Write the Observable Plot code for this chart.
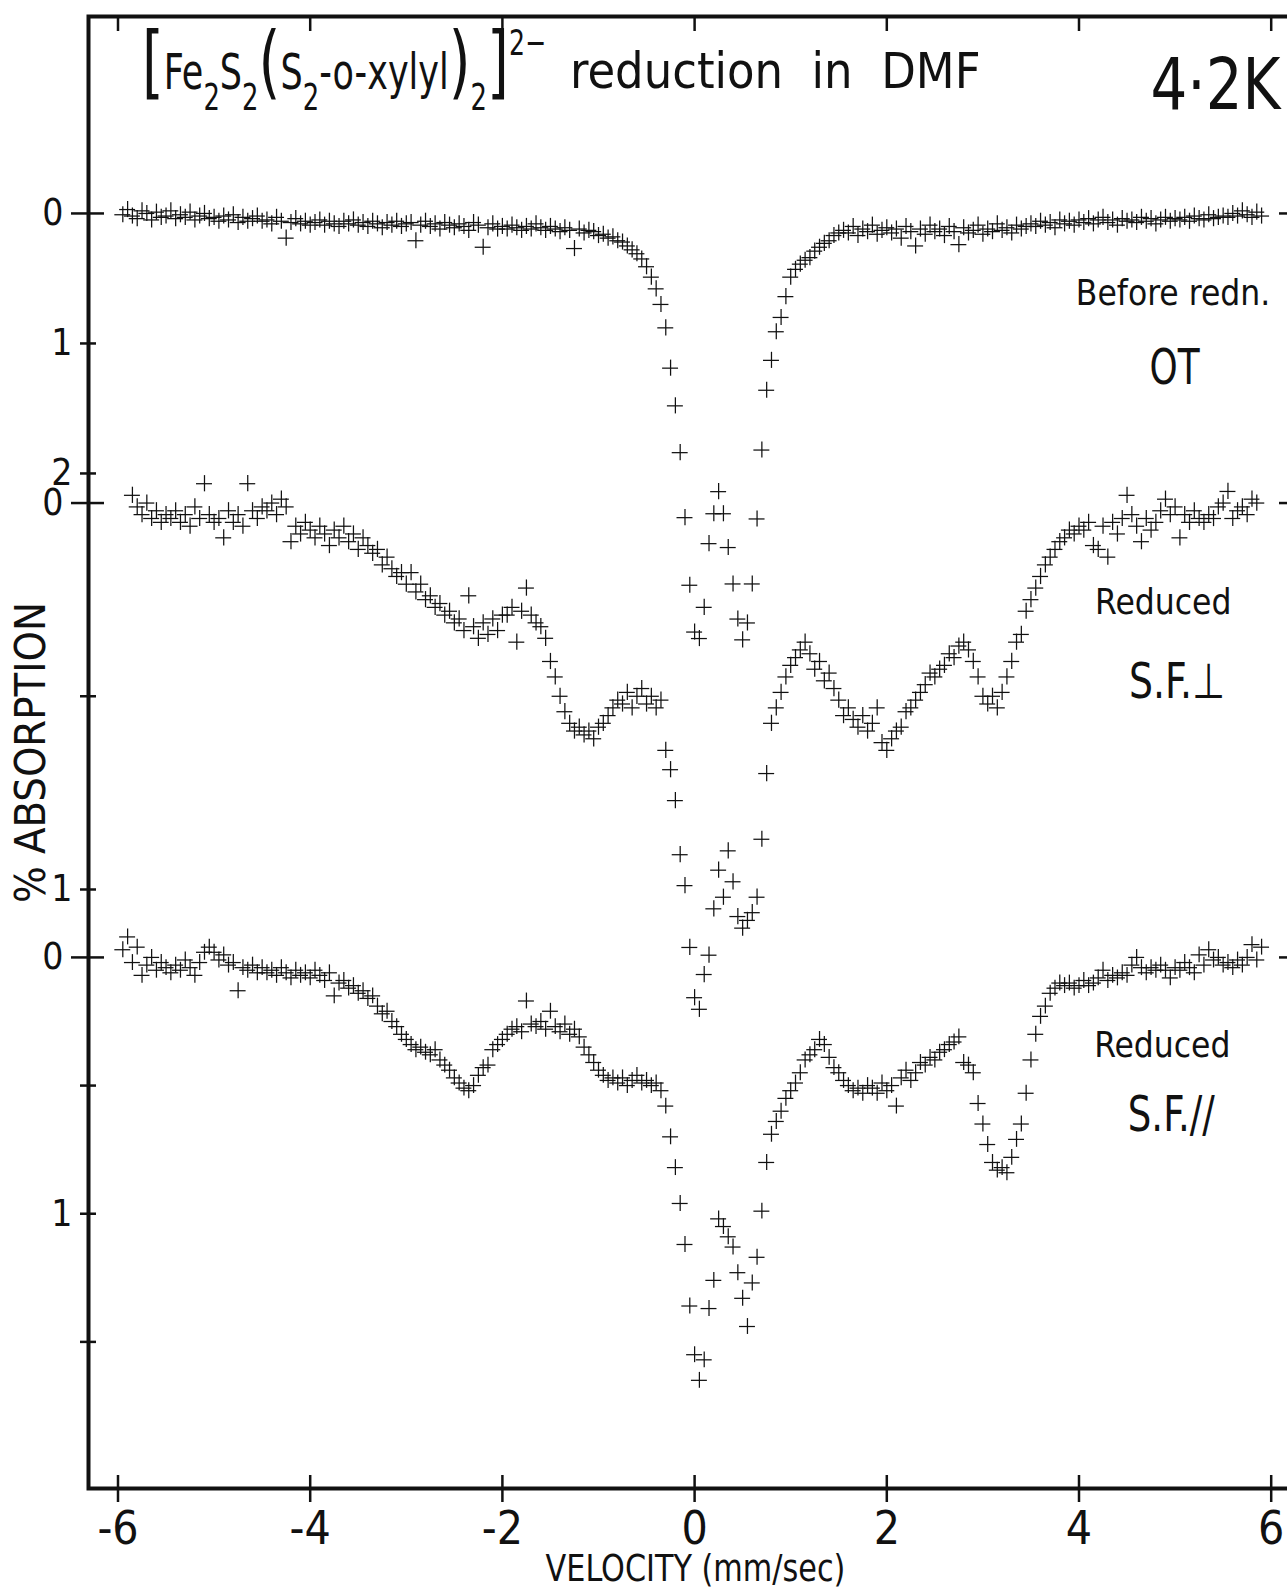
<!DOCTYPE html>
<html><head><meta charset="utf-8">
<script src="https://cdn.jsdelivr.net/npm/d3@7"></script>
<script src="https://cdn.jsdelivr.net/npm/@observablehq/plot@0.6"></script>
<style>
html,body{margin:0;padding:0;background:#fff;}
#chart{position:relative;width:1287px;height:1590px;overflow:hidden;background:#fff;}
#chart svg{position:absolute;left:0;top:0;background:transparent;}
</style></head><body><div id="chart"></div>
<script>
// ---------- data (velocity channels, mm/sec) ----------
const velocity = [
-5.95,-5.90,-5.85,-5.80,-5.75,-5.70,-5.65,-5.60,-5.55,-5.50,
-5.45,-5.40,-5.35,-5.30,-5.25,-5.20,-5.15,-5.10,-5.05,-5.00,
-4.95,-4.90,-4.85,-4.80,-4.75,-4.70,-4.65,-4.60,-4.55,-4.50,
-4.45,-4.40,-4.35,-4.30,-4.25,-4.20,-4.15,-4.10,-4.05,-4.00,
-3.95,-3.90,-3.85,-3.80,-3.75,-3.70,-3.65,-3.60,-3.55,-3.50,
-3.45,-3.40,-3.35,-3.30,-3.25,-3.20,-3.15,-3.10,-3.05,-3.00,
-2.95,-2.90,-2.85,-2.80,-2.75,-2.70,-2.65,-2.60,-2.55,-2.50,
-2.45,-2.40,-2.35,-2.30,-2.25,-2.20,-2.15,-2.10,-2.05,-2.00,
-1.95,-1.90,-1.85,-1.80,-1.75,-1.70,-1.65,-1.60,-1.55,-1.50,
-1.45,-1.40,-1.35,-1.30,-1.25,-1.20,-1.15,-1.10,-1.05,-1.00,
-0.95,-0.90,-0.85,-0.80,-0.75,-0.70,-0.65,-0.60,-0.55,-0.50,
-0.45,-0.40,-0.35,-0.30,-0.25,-0.20,-0.15,-0.10,-0.05,0.00,
0.05,0.10,0.15,0.20,0.25,0.30,0.35,0.40,0.45,0.50,
0.55,0.60,0.65,0.70,0.75,0.80,0.85,0.90,0.95,1.00,
1.05,1.10,1.15,1.20,1.25,1.30,1.35,1.40,1.45,1.50,
1.55,1.60,1.65,1.70,1.75,1.80,1.85,1.90,1.95,2.00,
2.05,2.10,2.15,2.20,2.25,2.30,2.35,2.40,2.45,2.50,
2.55,2.60,2.65,2.70,2.75,2.80,2.85,2.90,2.95,3.00,
3.05,3.10,3.15,3.20,3.25,3.30,3.35,3.40,3.45,3.50,
3.55,3.60,3.65,3.70,3.75,3.80,3.85,3.90,3.95,4.00,
4.05,4.10,4.15,4.20,4.25,4.30,4.35,4.40,4.45,4.50,
4.55,4.60,4.65,4.70,4.75,4.80,4.85,4.90,4.95,5.00,
5.05,5.10,5.15,5.20,5.25,5.30,5.35,5.40,5.45,5.50,
5.55,5.60,5.65,5.70,5.75,5.80,5.85,5.90
];

// % absorption, "Before redn." (OT)
const absorptionOT = [
0.01,-0.03,0.02,0.04,-0.02,0.00,0.05,-0.01,0.03,0.02,
-0.02,0.04,0.01,0.03,-0.01,0.05,0.02,0.00,0.04,0.03,
0.06,0.02,0.05,0.01,0.07,0.03,0.06,0.04,0.02,0.06,
0.05,0.08,0.03,0.06,0.19,0.07,0.04,0.08,0.06,0.09,
0.07,0.05,0.09,0.06,0.08,0.10,0.06,0.08,0.05,0.09,
0.07,0.10,0.06,0.08,0.11,0.07,0.09,0.06,0.10,0.08,
0.07,0.21,0.09,0.06,0.10,0.08,0.12,0.07,0.09,0.11,
0.08,0.10,0.13,0.07,0.09,0.26,0.11,0.08,0.12,0.10,
0.12,0.09,0.11,0.13,0.10,0.12,0.08,0.11,0.13,0.10,
0.12,0.14,0.11,0.13,0.27,0.12,0.15,0.13,0.14,0.17,
0.16,0.19,0.18,0.21,0.22,0.25,0.28,0.31,0.35,0.41,
0.49,0.58,0.70,0.88,1.19,1.48,1.84,2.34,2.86,3.22,
3.27,3.03,2.54,2.31,2.14,2.31,2.57,2.85,3.12,3.28,
3.15,2.85,2.35,1.82,1.36,1.13,0.91,0.80,0.64,0.49,
0.43,0.39,0.36,0.34,0.29,0.26,0.23,0.21,0.17,0.15,
0.13,0.15,0.10,0.17,0.12,0.14,0.09,0.16,0.13,0.11,
0.15,0.12,0.19,0.10,0.14,0.25,0.12,0.16,0.09,0.14,
0.12,0.17,0.10,0.14,0.24,0.11,0.15,0.13,0.09,0.16,
0.12,0.14,0.08,0.13,0.11,0.15,0.09,0.12,0.10,0.08,
0.10,0.06,0.09,0.07,0.11,0.05,0.08,0.06,0.09,0.05,
0.07,0.04,0.08,0.05,0.03,0.07,0.05,0.09,0.04,0.06,
0.05,0.07,0.03,0.06,0.04,0.08,0.05,0.03,0.06,0.04,
0.05,0.03,0.06,0.02,0.04,0.05,0.01,0.04,0.03,0.02,
0.03,0.00,0.02,-0.02,0.01,0.03,-0.01,0.02
];

// % absorption, Reduced S.F. ⊥
const absorptionPerp = [
null,null,-0.02,0.01,0.03,0.00,0.04,0.02,0.05,0.03,
0.04,0.02,0.05,0.03,0.06,0.01,0.04,-0.05,0.03,0.05,
0.04,0.09,0.02,0.05,0.03,0.06,-0.05,0.02,0.04,0.01,
0.02,0.00,0.03,-0.01,0.01,0.10,0.06,0.08,0.05,0.07,
0.09,0.06,0.08,0.11,0.07,0.09,0.06,0.10,0.08,0.12,
0.09,0.11,0.13,0.12,0.16,0.14,0.17,0.19,0.18,0.21,
0.18,0.23,0.21,0.25,0.24,0.27,0.26,0.29,0.28,0.31,
0.30,0.33,0.24,0.32,0.35,0.31,0.34,0.30,0.33,0.29,
0.29,0.27,0.36,0.28,0.22,0.29,0.31,0.32,0.35,0.41,
0.45,0.50,0.54,0.57,0.59,0.58,0.60,0.59,0.61,0.58,
0.57,0.55,0.53,0.51,0.52,0.49,0.53,0.50,0.48,0.52,
0.50,0.53,0.51,0.64,0.69,0.77,0.91,0.99,1.15,1.28,
1.31,1.22,1.17,1.05,0.95,1.02,0.90,0.98,1.07,1.10,
1.08,1.06,1.02,0.87,0.70,0.57,0.53,0.49,0.45,0.42,
0.40,0.38,0.36,0.39,0.43,0.41,0.46,0.44,0.48,0.51,
0.55,0.53,0.56,0.58,0.55,0.59,0.57,0.53,0.62,0.64,
0.61,0.59,0.58,0.54,0.53,0.51,0.49,0.47,0.44,0.45,
0.43,0.42,0.39,0.40,0.37,0.36,0.38,0.41,0.45,0.50,
0.52,0.50,0.53,0.49,0.45,0.41,0.36,0.34,0.28,0.25,
0.22,0.19,0.16,0.14,0.12,0.10,0.09,0.07,0.08,0.06,
0.07,0.05,0.11,0.12,0.06,0.14,0.05,0.08,0.04,-0.02,
0.03,0.06,0.10,0.04,0.07,0.05,0.02,-0.01,0.03,0.01,
0.09,0.03,0.05,0.02,0.04,0.05,0.03,0.04,0.01,0.00,
-0.03,0.04,0.02,0.01,0.03,-0.01,0.00,null
];

// % absorption, Reduced S.F. //
const absorptionPar = [
-0.03,-0.08,0.02,-0.04,0.07,0.03,0.00,0.05,0.02,0.04,
0.06,0.03,0.05,0.01,0.04,0.07,0.02,-0.02,-0.04,-0.02,
0.01,-0.01,0.03,0.02,0.13,0.04,0.05,0.03,0.06,0.04,
0.06,0.05,0.07,0.04,0.06,0.08,0.05,0.07,0.06,0.08,
0.05,0.07,0.09,0.06,0.15,0.10,0.09,0.12,0.11,0.14,
0.13,0.16,0.15,0.19,0.22,0.21,0.25,0.27,0.30,0.32,
0.34,0.36,0.35,0.37,0.38,0.36,0.40,0.42,0.44,0.47,
0.49,0.51,0.52,0.50,0.46,0.43,0.42,0.36,0.34,0.32,
0.30,0.28,0.27,0.29,0.17,0.26,0.27,0.25,0.28,0.21,
0.27,0.29,0.26,0.30,0.28,0.31,0.35,0.38,0.41,0.44,
0.46,0.48,0.47,0.49,0.47,0.50,0.48,0.46,0.49,0.48,
0.50,0.49,0.52,0.58,0.70,0.82,0.96,1.12,1.36,1.55,
1.65,1.57,1.37,1.26,1.02,1.05,1.09,1.13,1.23,1.33,
1.44,1.27,1.17,0.99,0.80,0.69,0.64,0.60,0.55,0.52,
0.49,0.45,0.40,0.38,0.36,0.32,0.34,0.39,0.43,0.45,
0.48,0.50,0.52,0.51,0.53,0.50,0.51,0.53,0.49,0.52,
0.50,0.58,0.47,0.44,0.48,0.45,0.41,0.42,0.39,0.40,
0.37,0.36,0.34,0.33,0.31,0.41,0.42,0.45,0.57,0.65,
0.73,0.80,0.83,0.82,0.84,0.78,0.71,0.65,0.53,0.40,
0.30,0.23,0.19,0.14,0.12,0.10,0.11,0.10,0.12,0.11,
0.09,0.11,0.10,0.08,0.05,0.09,0.07,0.08,0.06,0.07,
0.03,0.00,0.04,0.06,0.04,0.05,0.03,0.05,0.08,0.04,
0.05,0.02,0.04,0.06,-0.01,0.03,-0.03,0.01,0.00,0.03,
0.02,0.04,0.01,0.03,0.00,-0.05,0.01,-0.04
];

// tick values
const velocityTicks = [-6, -4, -2, 0, 2, 4, 6];
const ticksOT = [0, 1, 2];
const ticksPerp = [0, 0.5, 1];
const ticksPar = [0, 0.5, 1, 1.5];
const labelledPerp = [0, 1];
const labelledPar = [0, 1];

// text
const xLabel = "VELOCITY (mm/sec)";
const yLabel = "% ABSORPTION";
const temperature = "4·2K";
const titleRest = "reduction  in  DMF";

// ---------- layout / style ----------
const W = 1287, H = 1590;
const FONT = '"Liberation Sans Narrow","DejaVu Sans Condensed","Arial Narrow","Liberation Sans",sans-serif';
const INK = "#111";
const halfStep = 0.083;          // horizontal half-width of each + (mm/sec)
const base = {
  width: W, height: H,
  marginTop: 16, marginRight: -15, marginBottom: 102, marginLeft: 88,
  x: {domain: [-6, 6], range: [117.5, 1270.7], axis: null}
};
// rendered widths (px) for the narrow plotter lettering
const textWidths = {"OT": 50, "S.F.⊥": 96, "S.F.//": 87, "4·2K": 130, "VELOCITY (mm/sec)": 300};

const spectra = [
  {values: absorptionOT, domain: [9.808, -1.515], err: 0.062,
   ticks: ticksOT, labelled: ticksOT,
   notes: [
     {text: "Before redn.", v: 5.99, a: 0.615, size: 35, anchor: "end"},
     {text: "OT", v: 4.995, a: 1.19, size: 49, anchor: "middle"}
   ]},
  {values: absorptionPerp, domain: [2.550, -1.259], err: 0.021,
   ticks: ticksPerp, labelled: labelledPerp,
   notes: [
     {text: "Reduced", v: 4.877, a: 0.259, size: 35, anchor: "middle"},
     {text: "S.F.⊥", v: 5.02, a: 0.465, size: 49, anchor: "middle"}
   ]},
  {values: absorptionPar, domain: [2.072, -3.671], err: 0.031,
   ticks: ticksPar, labelled: labelledPar,
   notes: [
     {text: "Reduced", v: 4.867, a: 0.345, size: 35, anchor: "middle"},
     {text: "S.F.//", v: 4.96, a: 0.617, size: 49, anchor: "middle"}
   ]}
];

const fmt = d => String(d);

function spectrumMarks(s) {
  const pts = velocity.map((v, i) => ({v, a: s.values[i]})).filter(d => d.a != null);
  const zero = s.ticks.filter(t => t === 0);
  const others = s.ticks.filter(t => t !== 0 && s.labelled.includes(t));
  const plain = s.ticks.filter(t => !s.labelled.includes(t));
  return [
    Plot.axisY(zero, {anchor: "left", tickSize: 17, tickPadding: 8, fontSize: 37, strokeWidth: 2.5, tickFormat: fmt, label: null}),
    Plot.axisY(zero, {anchor: "left", tickSize: -16, strokeWidth: 2.5, fill: "none", label: null}),
    Plot.axisY(others, {anchor: "left", tickSize: 8, tickPadding: 8, fontSize: 37, strokeWidth: 2.5, tickFormat: fmt, label: null}),
    Plot.axisY(others, {anchor: "left", tickSize: -8, strokeWidth: 2.5, fill: "none", label: null}),
    Plot.axisY(plain, {anchor: "left", tickSize: 8, strokeWidth: 2.5, fill: "none", label: null}),
    Plot.axisY(plain, {anchor: "left", tickSize: -8, strokeWidth: 2.5, fill: "none", label: null}),
    Plot.axisY(zero, {anchor: "right", tickSize: -24, strokeWidth: 2.5, fill: "none", label: null}),
    Plot.ruleY(pts, {y: "a", x1: d => d.v - halfStep, x2: d => d.v + halfStep, stroke: INK, strokeWidth: 1.25}),
    Plot.ruleX(pts, {x: "v", y1: d => d.a - s.err, y2: d => d.a + s.err, stroke: INK, strokeWidth: 1.25}),
    ...s.notes.map(n => Plot.text([n], {x: "v", y: "a", text: "text", fontSize: n.size, textAnchor: n.anchor, lineAnchor: "middle", fill: INK}))
  ];
}

const chart = document.getElementById("chart");

spectra.forEach((s, k) => {
  const marks = [];
  if (k === 0) {
    marks.push(
      Plot.frame({stroke: INK, strokeWidth: 4}),
      Plot.axisX(velocityTicks, {anchor: "bottom", tickSize: 14, tickPadding: 9, fontSize: 46, strokeWidth: 2.5, tickFormat: fmt, label: null}),
      Plot.axisX(velocityTicks, {anchor: "bottom", tickSize: -13, strokeWidth: 2.5, fill: "none", label: null}),
      Plot.axisX(velocityTicks, {anchor: "top", tickSize: -14, strokeWidth: 2.5, fill: "none", label: null}),
      Plot.text([xLabel], {text: d => d, frameAnchor: "bottom", dy: 80, lineAnchor: "middle", textAnchor: "middle", fontSize: 38, fill: INK}),
      Plot.text([yLabel], {text: d => d, frameAnchor: "left", dx: -57, rotate: -90, textAnchor: "middle", lineAnchor: "middle", fontSize: 43, fill: INK}),
      Plot.text([temperature], {text: d => d, frameAnchor: "top-right", dx: -22, dy: 69, fontSize: 72, textAnchor: "end", lineAnchor: "middle", fill: INK})
    );
  }
  marks.push(...spectrumMarks(s));
  const svg = Plot.plot({
    ...base,
    y: {domain: s.domain, axis: null},
    style: {background: "transparent", fontFamily: FONT, color: INK, overflow: "visible"},
    marks
  });
  chart.appendChild(svg);
  // narrow plotter lettering: squeeze selected labels horizontally
  d3.select(svg).selectAll("text").each(function () {
    const L = textWidths[this.textContent];
    if (L) {
      const natural = this.getComputedTextLength();
      const tr = this.getAttribute("transform") || "";
      this.setAttribute("transform", `${tr} scale(${(L / natural).toFixed(3)},1)`);
    }
  });
  if (k === 0) {
    // title: formula with sub/superscripts, then the rest
    const parts = [
      ["[", 0, 1.6], ["Fe", 0, 1], ["2", 1, 0.74], ["S", 0, 1], ["2", 1, 0.74], ["(", 0, 1.6], ["S", 0, 1], ["2", 1, 0.74],
      ["-o-xylyl", 0, 1], [")", 0, 1.6], ["2", 1, 0.74], ["]", 0, 1.6], ["2−", 2, 0.72]
    ];
    const shift = [0, 21, -34];
    const g = d3.select(svg).append("g").attr("font-family", FONT).attr("fill", INK).attr("text-anchor", "start");
    const t = g.append("text").attr("font-size", 50);
    let cur = 0;
    for (const [str, role, scale] of parts) {
      t.append("tspan").attr("dy", shift[role] - cur).attr("font-size", 50 * scale).text(str);
      cur = shift[role];
    }
    const natural = t.node().getComputedTextLength();
    t.attr("transform", `translate(142,89) scale(${(404 / natural).toFixed(3)},1)`);
    g.append("text").attr("x", 570).attr("y", 88).attr("font-size", 50).style("white-space", "pre").text(titleRest);
  }
});
</script></body></html>
